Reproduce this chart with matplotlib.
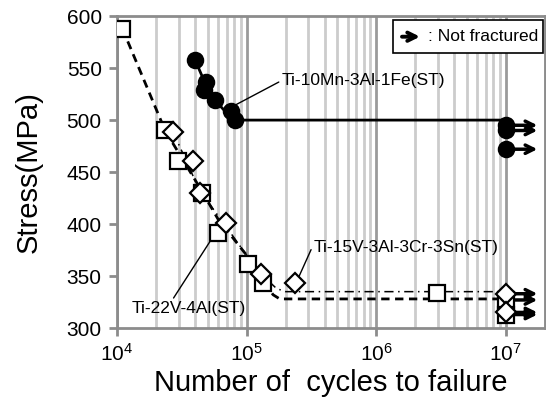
import matplotlib
matplotlib.use("Agg")
import matplotlib.pyplot as plt
from matplotlib.patches import Rectangle
from matplotlib.ticker import LogLocator, NullFormatter
import numpy as np

plt.rcParams["font.family"] = ["Liberation Sans", "DejaVu Sans"]
plt.rcParams["mathtext.default"] = "regular"

# S-N data (cycles, MPa)
ti22_n = [1.1e4, 2.35e4, 2.95e4, 4.5e4, 6.0e4, 1.02e5, 1.33e5, 2.95e6]
ti22_s = [588, 490, 461, 430, 391, 362, 343, 334]
ti22_runout_s = [327, 313]

ti15_n = [2.7e4, 3.85e4, 4.35e4, 6.9e4, 1.3e5, 2.35e5]
ti15_s = [489, 461, 430, 401, 352, 343]
ti15_runout_s = [333, 315]

ti10_n = [4.0e4, 4.85e4, 4.7e4, 5.7e4, 7.6e4, 8.1e4]
ti10_s = [558, 537, 529, 519, 509, 500]
ti10_runout_s = [495, 490, 472]

runout_n = 1e7

# fatigue-limit curves
ti22_fit_n = [1.1e4, 2.35e4, 4.5e4, 6.0e4, 1.0e5, 1.35e5, 1.6e5, 1.8e5, 1e7]
ti22_fit_s = [588, 490, 432, 405, 370, 345, 332, 328, 328]
ti15_fit_n = [2.7e4, 4.35e4, 6.9e4, 1.0e5, 1.4e5, 1.7e5, 2.0e5, 1e7]
ti15_fit_s = [489, 432, 398, 370, 348, 338, 335, 335]
ti10_fit_n = [4.0e4, 4.8e4, 5.7e4, 7.0e4, 8.1e4, 1e7]
ti10_fit_s = [558, 535, 519, 507, 500, 500]

fig = plt.figure(figsize=(5.46, 4.03), dpi=100)
ax = fig.add_axes([0.2143, 0.186, 0.7837, 0.774])

ax.set_xscale("log")
ax.set_xlim(1e4, 2e7)
ax.set_ylim(300, 600)
ax.set_yticks(np.arange(300, 601, 50))
ax.xaxis.set_major_locator(LogLocator(base=10, numticks=10))
ax.xaxis.set_minor_locator(LogLocator(base=10, subs=np.arange(2, 10), numticks=20))
ax.xaxis.set_minor_formatter(NullFormatter())

ax.grid(True, which="major", axis="x", color="#9a9a9a", lw=2)
ax.grid(True, which="minor", axis="x", color="#cccccc", lw=2)
ax.set_axisbelow(True)

for sp in ax.spines.values():
    sp.set_color("#8c8c8c")
    sp.set_linewidth(2)

ax.tick_params(axis="both", which="major", direction="out", length=6, width=2,
               color="#8c8c8c", labelsize=15, pad=5)
ax.tick_params(axis="x", which="minor", length=0)

# curves
ax.plot(ti22_fit_n, ti22_fit_s, color="black", lw=2, ls=(0, (3, 2)), zorder=2)
ax.plot(ti15_fit_n, ti15_fit_s, color="black", lw=1.1, ls=(0, (6, 3, 1, 3)), zorder=2)
ax.plot(ti10_fit_n, ti10_fit_s, color="black", lw=2, zorder=2)

# run-out arrows
for s in ti22_runout_s + ti15_runout_s + ti10_runout_s:
    ax.annotate("", xy=(1.75e7, s), xytext=(runout_n, s),
                arrowprops=dict(arrowstyle="->", lw=2.5, color="black",
                                mutation_scale=15, shrinkA=0, shrinkB=0),
                zorder=3)

mk = dict(ls="none", mec="black", mew=1.6, zorder=4)
ax.plot(ti22_n, ti22_s, marker="s", ms=12, mfc="white", **mk)
ax.plot([runout_n] * len(ti22_runout_s), ti22_runout_s, marker="s", ms=12, mfc="white", **mk)
ax.plot(ti15_n, ti15_s, marker="D", ms=10.5, mfc="white", **mk)
ax.plot([runout_n] * len(ti15_runout_s), ti15_runout_s, marker="D", ms=10.5, mfc="white", **mk)
ax.plot(ti10_n, ti10_s, marker="o", ms=11, mfc="black", **mk)
ax.plot([runout_n] * len(ti10_runout_s), ti10_runout_s, marker="o", ms=11, mfc="black", **mk)

# alloy labels
lead = dict(arrowstyle="-", lw=1, color="black", shrinkA=0, shrinkB=0)
ax.annotate("Ti-10Mn-3Al-1Fe(ST)", xy=(7.5e4, 512), xytext=(1.86e5, 538),
            fontsize=12.5, va="center", ha="left",
            arrowprops=dict(lead, relpos=(0.0, 0.5)))
ax.annotate("Ti-15V-3Al-3Cr-3Sn(ST)", xy=(2.46e5, 346), xytext=(3.3e5, 377),
            fontsize=12.5, va="center", ha="left",
            arrowprops=dict(lead, relpos=(0.0, 0.8)))
ax.annotate("Ti-22V-4Al(ST)", xy=(5.2e4, 383), xytext=(1.3e4, 319),
            fontsize=12.5, va="center", ha="left",
            arrowprops=dict(lead, relpos=(0.35, 1.0)))

# legend box
ax.add_patch(Rectangle((0.645, 0.881), 0.35, 0.106, transform=ax.transAxes,
                       fc="white", ec="black", lw=1.2, zorder=5))
ax.text(0.984, 0.934, ": Not fractured", transform=ax.transAxes, fontsize=12.5,
        ha="right", va="center", zorder=6)
ax.annotate("", xy=(0.708, 0.934), xytext=(0.666, 0.934),
            xycoords="axes fraction", textcoords="axes fraction",
            arrowprops=dict(arrowstyle="->", lw=2.8, color="black",
                            mutation_scale=15, shrinkA=0, shrinkB=0),
            zorder=6)

ax.set_xlabel("Number of  cycles to failure", fontsize=21, labelpad=3)
ax.set_ylabel("Stress(MPa)", fontsize=21, labelpad=17)

fig.savefig("out.png", dpi=100)
